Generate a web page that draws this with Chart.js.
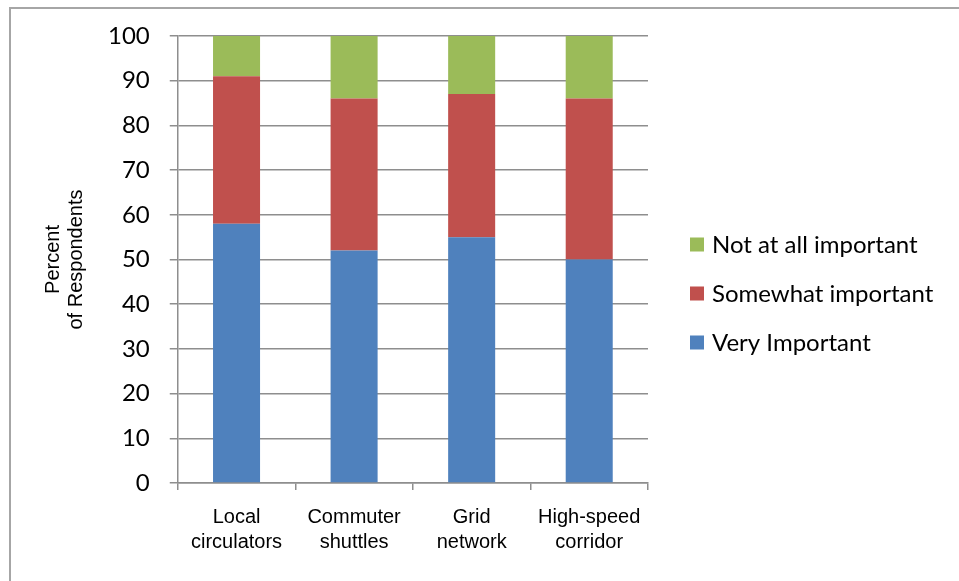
<!DOCTYPE html>
<html>
<head>
<meta charset="utf-8">
<script src="https://cdn.jsdelivr.net/npm/chart.js@4"></script>
<style>
  html, body { margin: 0; padding: 0; background: #fff; }
  #wrap { position: relative; width: 959px; height: 581px; overflow: hidden; }
  #frame { position: absolute; left: 9px; top: 7px; right: -20px; bottom: -20px;
           border-left: 2px solid #a6a6a6; border-top: 2px solid #a6a6a6; }
  canvas { position: absolute; left: 0; top: 0; }
</style>
</head>
<body>
<div id="wrap">
  <div id="frame"></div>
  <canvas id="chart" width="959" height="581"></canvas>
</div>
<script>
const categories = [['Local', 'circulators'], ['Commuter', 'shuttles'], ['Grid', 'network'], ['High-speed', 'corridor']];
const veryImportant = [58, 52, 55, 50];
const somewhatImportant = [33, 34, 32, 36];
const notAtAllImportant = [9, 14, 13, 14];
const yTicks = [0, 10, 20, 30, 40, 50, 60, 70, 80, 90, 100];

const gridGray = '#8e8e8e';

// legend drawn to the right of the plot, top entry = last dataset
const sideLegend = {
    id: 'sideLegend',
    afterDraw(chart) {
        const c = chart.ctx;
        const items = chart.data.datasets.slice().reverse();
        const x = chart.chartArea.right + 42;
        const yMid = (chart.chartArea.top + chart.chartArea.bottom) / 2 + 34;
        const step = 49;
        c.save();
        c.font = '24px Lato';
        c.textBaseline = 'middle';
        c.fillStyle = '#000';
        items.forEach((ds, i) => {
            const y = yMid + (i - (items.length - 1) / 2) * step;
            c.fillStyle = ds.backgroundColor;
            c.fillRect(x, y - 7, 14, 14);
            c.fillStyle = '#000';
            c.fillText(ds.label, x + 22, y + 1);
        });
        c.restore();
    }
};

const ctx = document.getElementById('chart').getContext('2d');
new Chart(ctx, {
    type: 'bar',
    data: {
        labels: categories,
        datasets: [{
            label: 'Very Important',
            data: veryImportant,
            backgroundColor: '#4F81BD'
        }, {
            label: 'Somewhat important',
            data: somewhatImportant,
            backgroundColor: '#C0504D'
        }, {
            label: 'Not at all important',
            data: notAtAllImportant,
            backgroundColor: '#9BBB59'
        }]
    },
    plugins: [sideLegend],
    options: {
        responsive: false,
        animation: false,
        devicePixelRatio: 1,
        layout: { padding: { top: 36, left: 35, right: 311, bottom: 11 } },
        datasets: { bar: { categoryPercentage: 1, barPercentage: 0.4 } },
        plugins: {
            tooltip: { enabled: false },
            legend: { display: false }
        },
        scales: {
            x: {
                stacked: true,
                grid: { drawOnChartArea: false, drawTicks: true, tickLength: 7, color: gridGray, lineWidth: 1.5 },
                border: { color: gridGray, width: 1.5 },
                ticks: {
                    color: '#000',
                    padding: 15,
                    maxRotation: 0,
                    font: { family: 'Liberation Sans', size: 20, lineHeight: 1.25 }
                }
            },
            y: {
                stacked: true,
                min: 0,
                max: 100,
                afterBuildTicks: axis => { axis.ticks = yTicks.map(v => ({ value: v })); },
                grid: { color: gridGray, lineWidth: 1.5, tickLength: 8 },
                border: { color: gridGray, width: 1.5 },
                ticks: {
                    color: '#000',
                    padding: 20,
                    font: { family: 'Lato', size: 24 }
                },
                title: {
                    display: true,
                    text: ['Percent', 'of Respondents'],
                    color: '#000',
                    padding: { top: 7, bottom: 0 },
                    font: { family: 'Liberation Sans', size: 20, lineHeight: 1.15 }
                }
            }
        }
    }
});
</script>
</body>
</html>
